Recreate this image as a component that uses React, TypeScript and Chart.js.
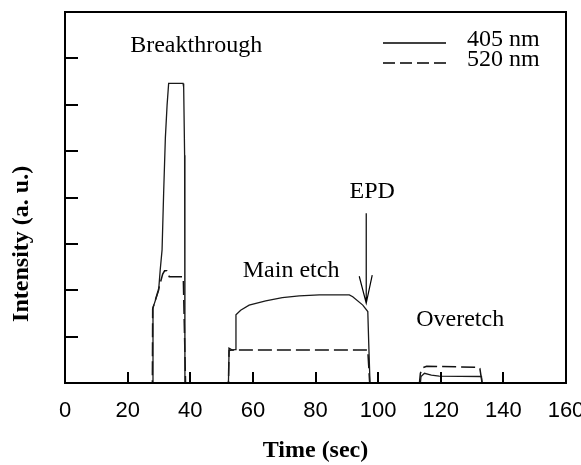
import React, { useEffect, useRef } from "react";
import { Chart, registerables } from "chart.js";

Chart.register(...registerables);

// Time axis (sec) and intensity (a.u.) readings
const time405 = [0, 27.9, 28.1, 29.9, 30.4, 31.0, 31.5, 32.05, 32.6, 33.1, 37.7, 37.9, 38.2, 38.3, 52.2, 52.4, 54.3, 54.6, 56.1, 58.8, 64.1, 69.4, 74.8, 81.2, 90.8, 91.9, 95.1, 96.7, 97.0, 97.4, 113.5, 113.7, 114.8, 117.0, 119.5, 133.0, 133.2, 160];
const intensity405 = [0, 0, 1.62, 2.0, 2.43, 2.87, 4.09, 5.28, 5.99, 6.46, 6.46, 6.38, 4.91, 0, 0, 0.7, 0.72, 1.47, 1.57, 1.68, 1.77, 1.84, 1.88, 1.9, 1.9, 1.86, 1.68, 1.54, 0.86, 0, 0, 0.14, 0.21, 0.17, 0.15, 0.14, 0, 0];

const time520 = [0, 27.9, 28.0, 29.8, 31.2, 31.8, 32.5, 33.3, 37.6, 37.8, 38.5, 52.2, 52.4, 53.4, 96.7, 97.3, 113.2, 113.5, 114.3, 115.5, 132.0, 132.5, 133.2, 160];
const intensity520 = [0, 0, 1.6, 2.0, 2.35, 2.42, 2.42, 2.29, 2.29, 2.2, 0, 0, 0.75, 0.71, 0.71, 0, 0, 0.21, 0.33, 0.36, 0.34, 0.31, 0, 0];

const seriesLabels = ["405 nm", "520 nm"];
const xTicks = [0, 20, 40, 60, 80, 100, 120, 140, 160];
const yTicks = [0, 1, 2, 3, 4, 5, 6, 7, 8];
const xTitle = "Time (sec)";
const yTitle = "Intensity (a. u.)";

// Annotations in data coordinates
const annotations = [
  { text: "Breakthrough", t: 41.9, v: 7.13 },
  { text: "Main etch", t: 72.2, v: 2.28 },
  { text: "EPD", t: 98.1, v: 3.99 },
  { text: "Overetch", t: 126.2, v: 1.23 },
];
const epdArrow = { t: 96.2, vFrom: 3.66, vTo: 1.72 };

const SERIF = "'Liberation Serif', 'Times New Roman', serif";
const SANS = "'Liberation Sans', Arial, sans-serif";

const decorPlugin = {
  id: "decor",
  afterDatasetsDraw(chart: any) {
    const ctx = chart.ctx;
    const { left, right, top, bottom } = chart.chartArea;
    const xs = chart.scales.x;
    const ys = chart.scales.y;
    ctx.save();
    // frame
    ctx.strokeStyle = "#000";
    ctx.lineWidth = 2;
    ctx.strokeRect(left, top, right - left, bottom - top);
    // inward ticks
    ctx.beginPath();
    for (const v of yTicks) {
      if (v === yTicks[0] || v === yTicks[yTicks.length - 1]) continue;
      const y = Math.round(ys.getPixelForValue(v));
      ctx.moveTo(left, y);
      ctx.lineTo(left + 13, y);
    }
    for (const v of xTicks) {
      if (v === xTicks[0] || v === xTicks[xTicks.length - 1]) continue;
      const x = Math.round(xs.getPixelForValue(v));
      ctx.moveTo(x, bottom);
      ctx.lineTo(x, bottom - 11);
    }
    ctx.stroke();

    // y-axis title (rotated)
    ctx.fillStyle = "#000";
    ctx.font = `bold 24px ${SERIF}`;
    ctx.textAlign = "center";
    ctx.textBaseline = "middle";
    ctx.save();
    ctx.translate(left - 43, ys.getPixelForValue(3.0));
    ctx.rotate(-Math.PI / 2);
    ctx.fillText(yTitle, 0, 0);
    ctx.restore();

    // annotations
    ctx.font = `24px ${SERIF}`;
    ctx.textAlign = "center";
    ctx.textBaseline = "alphabetic";
    for (const a of annotations) {
      ctx.fillText(a.text, xs.getPixelForValue(a.t), ys.getPixelForValue(a.v));
    }
    // EPD arrow
    const ax = xs.getPixelForValue(epdArrow.t);
    const ay1 = ys.getPixelForValue(epdArrow.vFrom);
    const ay2 = ys.getPixelForValue(epdArrow.vTo);
    ctx.lineWidth = 1.2;
    ctx.beginPath();
    ctx.moveTo(ax, ay1);
    ctx.lineTo(ax, ay2);
    ctx.moveTo(ax - 7, ay2 - 27);
    ctx.lineTo(ax, ay2);
    ctx.lineTo(ax + 6, ay2 - 28);
    ctx.stroke();

    // legend (top right)
    const lx1 = left + 318;
    const lx2 = left + 381;
    const rows = [
      { y: top + 31, dash: [] as number[] },
      { y: top + 51, dash: [12, 5] },
    ];
    ctx.textAlign = "left";
    rows.forEach((r, i) => {
      ctx.setLineDash(r.dash);
      ctx.lineWidth = 1.3;
      ctx.beginPath();
      ctx.moveTo(lx1, r.y);
      ctx.lineTo(lx2, r.y);
      ctx.stroke();
      ctx.setLineDash([]);
      ctx.fillText(seriesLabels[i], left + 402, r.y + 3);
    });
    ctx.restore();
  },
};

export default function App() {
  const ref = useRef<HTMLCanvasElement | null>(null);
  useEffect(() => {
    document.body.style.margin = "0";
    const canvas = ref.current!;
    const chart = new Chart(canvas, {
      type: "line",
      data: {
        datasets: [
          {
            label: seriesLabels[0],
            data: time405.map((t, i) => ({ x: t, y: intensity405[i] })),
            borderColor: "#1a1a1a",
            borderWidth: 1.3,
            pointRadius: 0,
            tension: 0,
            fill: false,
          },
          {
            label: seriesLabels[1],
            data: time520.map((t, i) => ({ x: t, y: intensity520[i] })),
            borderColor: "#111",
            borderWidth: 1.5,
            borderDash: [14, 5],
            pointRadius: 0,
            tension: 0,
            fill: false,
          },
        ],
      },
      options: {
        responsive: false,
        animation: false,
        layout: { padding: { left: 0, top: 12, right: 15, bottom: 0 } },
        plugins: { legend: { display: false }, tooltip: { enabled: false } },
        scales: {
          x: {
            type: "linear",
            min: 0,
            max: 160,
            afterBuildTicks: (s: any) => {
              s.ticks = xTicks.map((v) => ({ value: v }));
            },
            ticks: {
              color: "#000",
              font: { family: SANS, size: 22 },
              padding: 15,
              maxRotation: 0,
              autoSkip: false,
            },
            grid: { display: false, drawTicks: false },
            border: { display: false },
            title: {
              display: true,
              text: xTitle,
              color: "#000",
              font: { family: SERIF, size: 24, weight: "bold" },
              padding: { top: 0, bottom: 0 },
            },
            afterFit: (s: any) => {
              s.height = 82;
              s.paddingLeft = 0;
              s.paddingRight = 0;
            },
          },
          y: {
            type: "linear",
            min: 0,
            max: 8,
            afterBuildTicks: (s: any) => {
              s.ticks = yTicks.map((v) => ({ value: v }));
            },
            ticks: { display: false },
            grid: { display: false, drawTicks: false },
            border: { display: false },
            title: { display: false, text: yTitle },
            afterFit: (s: any) => {
              s.width = 65;
              s.paddingTop = 0;
              s.paddingBottom = 0;
            },
          },
        },
      },
      plugins: [decorPlugin],
    } as any);
    return () => chart.destroy();
  }, []);
  return (
    <canvas
      ref={ref}
      width={581}
      height={465}
      style={{ position: "absolute", left: 0, top: 0, width: 581, height: 465 }}
    />
  );
}
